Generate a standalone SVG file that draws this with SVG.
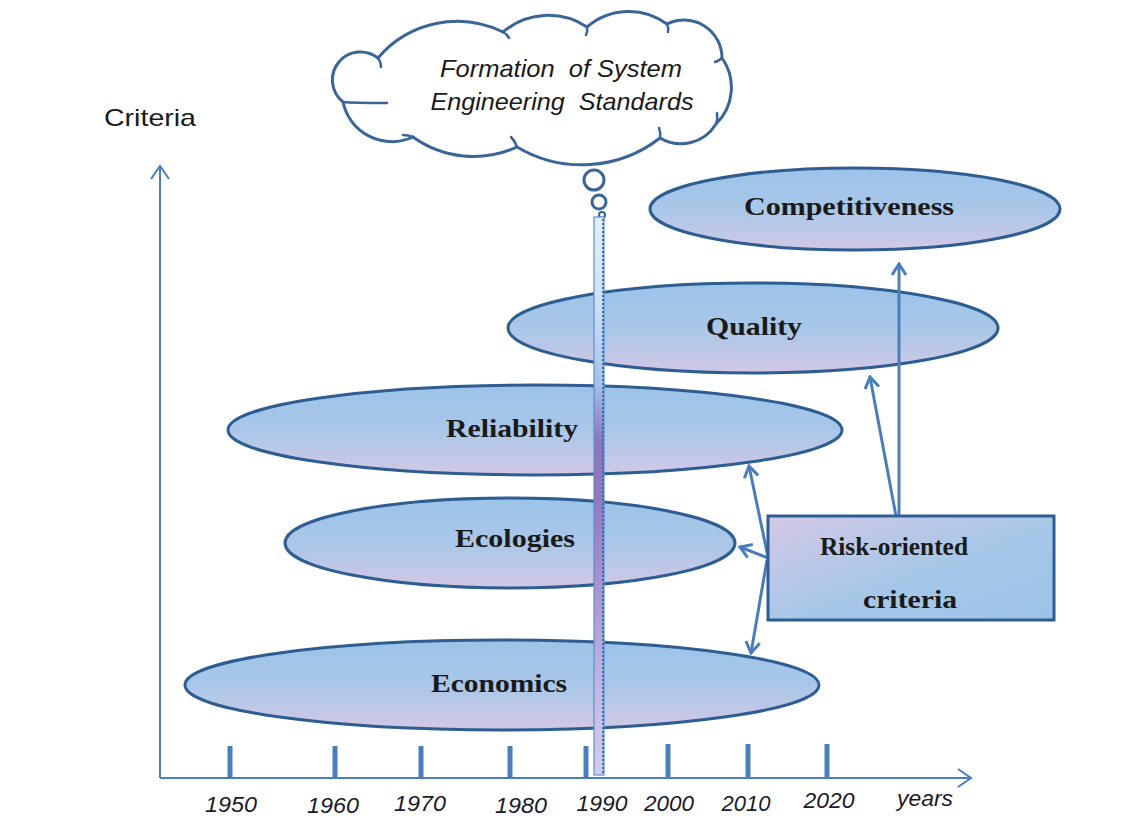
<svg xmlns="http://www.w3.org/2000/svg" width="1140" height="816" viewBox="0 0 1140 816">
<defs>
<linearGradient id="ellGrad" x1="0" y1="0" x2="0" y2="1">
<stop offset="0" stop-color="#9cc3e8"/>
<stop offset="0.5" stop-color="#a9c7e8"/>
<stop offset="1" stop-color="#d3c8e6"/>
</linearGradient>
<linearGradient id="boxGrad" x1="0" y1="0" x2="1" y2="1">
<stop offset="0" stop-color="#d3c8e6"/>
<stop offset="0.55" stop-color="#a6c7e8"/>
<stop offset="1" stop-color="#9cc3e8"/>
</linearGradient>
<linearGradient id="barGrad" x1="0" y1="0" x2="0" y2="1">
<stop offset="0" stop-color="#e4eef9"/>
<stop offset="0.15" stop-color="#cfe0f3"/>
<stop offset="0.3" stop-color="#a9bfe6"/>
<stop offset="0.4" stop-color="#8c74bb"/>
<stop offset="0.5" stop-color="#9478bd"/>
<stop offset="0.65" stop-color="#a891cc"/>
<stop offset="0.85" stop-color="#c3b8e0"/>
<stop offset="1" stop-color="#d3cdea"/>
</linearGradient>
<marker id="arr" markerUnits="userSpaceOnUse" viewBox="-14 -10 16 20" markerWidth="16" markerHeight="20" refX="0" refY="0" orient="auto">
<path d="M-11,-7 L0,0 L-11,7" fill="none" stroke="#4a7ebb" stroke-width="3" stroke-linejoin="miter"/>
</marker>
<marker id="axarr" markerUnits="userSpaceOnUse" viewBox="-16 -10 18 20" markerWidth="18" markerHeight="20" refX="0" refY="0" orient="auto">
<path d="M-13,-9 L0,0 L-13,9" fill="none" stroke="#4a7ebb" stroke-width="2"/>
</marker>
<style>
.ell{fill:url(#ellGrad);stroke:#2e5d91;stroke-width:3}
.lbl{font-family:"Liberation Serif","Times New Roman",serif;font-weight:bold;font-size:26px;fill:#1a1a1a;text-anchor:middle}
.yr{font-family:"Liberation Sans",Arial,sans-serif;font-style:italic;font-size:22px;fill:#1a1a2a;text-anchor:middle}
.cl{font-family:"Liberation Sans",Arial,sans-serif;font-style:italic;font-size:24px;fill:#1a1a1a;text-anchor:middle;white-space:pre}
.conn{stroke:#4a7ebb;stroke-width:3;fill:none;marker-end:url(#arr)}
.axis{stroke:#4a7ebb;stroke-width:2;fill:none}
.tick{stroke:#4a7ebb;stroke-width:5}
.cloud{fill:#ffffff;stroke:#3a6596;stroke-width:3}
</style>
</defs>
<rect width="1140" height="816" fill="#ffffff"/>

<g id="axes">
<line class="axis" x1="160" y1="778" x2="160" y2="166" marker-end="url(#axarr)"/>
<line class="axis" x1="160" y1="778" x2="971" y2="778" marker-end="url(#axarr)"/>
<text x="150" y="126" font-family="'Liberation Sans',Arial,sans-serif" font-size="24" fill="#1a1a1a" text-anchor="middle" textLength="92" lengthAdjust="spacingAndGlyphs">Criteria</text>
<g id="ticks">
<line class="tick" x1="230" y1="746" x2="230" y2="778"/>
<line class="tick" x1="335" y1="746" x2="335" y2="778"/>
<line class="tick" x1="421" y1="746" x2="421" y2="778"/>
<line class="tick" x1="510" y1="746" x2="510" y2="778"/>
<line class="tick" x1="586" y1="746" x2="586" y2="778"/>
<line class="tick" x1="668" y1="744" x2="668" y2="778"/>
<line class="tick" x1="748" y1="744" x2="748" y2="778"/>
<line class="tick" x1="827" y1="744" x2="827" y2="778"/>
</g>
<g id="yearLabels">
<text class="yr" x="231" y="812" textLength="52" lengthAdjust="spacingAndGlyphs">1950</text>
<text class="yr" x="333" y="813" textLength="52" lengthAdjust="spacingAndGlyphs">1960</text>
<text class="yr" x="420" y="811" textLength="52" lengthAdjust="spacingAndGlyphs">1970</text>
<text class="yr" x="521" y="813" textLength="52" lengthAdjust="spacingAndGlyphs">1980</text>
<text class="yr" x="602" y="811" textLength="51" lengthAdjust="spacingAndGlyphs">1990</text>
<text class="yr" x="669" y="811" textLength="50" lengthAdjust="spacingAndGlyphs">2000</text>
<text class="yr" x="746" y="811" textLength="49" lengthAdjust="spacingAndGlyphs">2010</text>
<text class="yr" x="829" y="808" textLength="51" lengthAdjust="spacingAndGlyphs">2020</text>
<text class="yr" x="925" y="806" textLength="56" lengthAdjust="spacingAndGlyphs">years</text>
</g>
</g>

<g id="node-competitiveness">
<ellipse class="ell" cx="855" cy="209" rx="205" ry="41"/>
<text class="lbl" x="849" y="215" textLength="210" lengthAdjust="spacingAndGlyphs">Competitiveness</text>
</g>
<g id="node-quality">
<ellipse class="ell" cx="753" cy="328" rx="245" ry="45"/>
<text class="lbl" x="754" y="335" textLength="96" lengthAdjust="spacingAndGlyphs">Quality</text>
</g>
<g id="node-reliability">
<ellipse class="ell" cx="535" cy="430" rx="307" ry="45"/>
<text class="lbl" x="512" y="437" textLength="132" lengthAdjust="spacingAndGlyphs">Reliability</text>
</g>
<g id="node-ecologies">
<ellipse class="ell" cx="510" cy="543" rx="225" ry="45"/>
<text class="lbl" x="515" y="547" textLength="120" lengthAdjust="spacingAndGlyphs">Ecologies</text>
</g>
<g id="node-economics">
<ellipse class="ell" cx="502" cy="685" rx="317" ry="45"/>
<text class="lbl" x="499" y="692" textLength="136" lengthAdjust="spacingAndGlyphs">Economics</text>
</g>

<g id="node-cloud">
<path class="cloud" d="M378,58 A104,104 0 0 1 503,32 A70,70 0 0 1 587,27 A64,64 0 0 1 667,24 A38,38 0 0 1 722,58 A51,51 0 0 1 716,124 A41,41 0 0 1 660,138 A127,127 0 0 1 517,147 A104,104 0 0 1 413,137 A50,50 0 0 1 343,102 A28,28 0 0 1 378,58 Z"/>
<g fill="none" stroke="#3a6596" stroke-width="2.5" stroke-linecap="round">
<path d="M503,32 Q507,34 509,38"/>
<path d="M587,27 Q588,31 586,35"/>
<path d="M667,24 Q669,28 668,32"/>
<path d="M722,58 Q719,61 715,62"/>
<path d="M716,124 Q718,119 717,113"/>
<path d="M660,138 Q661,133 659,128"/>
<path d="M517,147 Q515,141 511,137"/>
<path d="M413,137 Q408,135 403,135"/>
<path d="M343,102 Q352,103 387,103"/>
<path d="M378,58 Q381,62 381,67"/>
</g>
<text class="cl" x="561" y="77" textLength="242" lengthAdjust="spacingAndGlyphs">Formation  of System</text>
<text class="cl" x="562" y="110" textLength="263" lengthAdjust="spacingAndGlyphs">Engineering  Standards</text>
<circle cx="594" cy="180" r="10" fill="#ffffff" stroke="#3a6596" stroke-width="3"/>
<circle cx="599" cy="202" r="7" fill="#ffffff" stroke="#3a6596" stroke-width="3"/>
<circle cx="602" cy="215" r="3" fill="#ffffff" stroke="#3a6596" stroke-width="2"/>
</g>

<g id="node-bar">
<rect x="594" y="217" width="10" height="558" fill="url(#barGrad)" stroke="#5b8fd0" stroke-width="1.2"/>
<line x1="603" y1="219" x2="603" y2="775" stroke="#2f6fc0" stroke-width="2" stroke-dasharray="2 2"/>
</g>

<g id="connectors">
<line class="conn" x1="899" y1="516" x2="899" y2="264"/>
<line class="conn" x1="896" y1="516" x2="870" y2="377"/>
<line class="conn" x1="768" y1="557" x2="749" y2="466"/>
<line class="conn" x1="768" y1="558" x2="740" y2="547"/>
<line class="conn" x1="767" y1="560" x2="751" y2="653"/>
</g>

<g id="node-risk">
<rect x="768" y="516" width="286" height="104" fill="url(#boxGrad)" stroke="#2e5d91" stroke-width="3"/>
<text class="lbl" x="894" y="555" textLength="148" lengthAdjust="spacingAndGlyphs">Risk-oriented</text>
<text class="lbl" x="910" y="608" textLength="94" lengthAdjust="spacingAndGlyphs">criteria</text>
</g>
</svg>
